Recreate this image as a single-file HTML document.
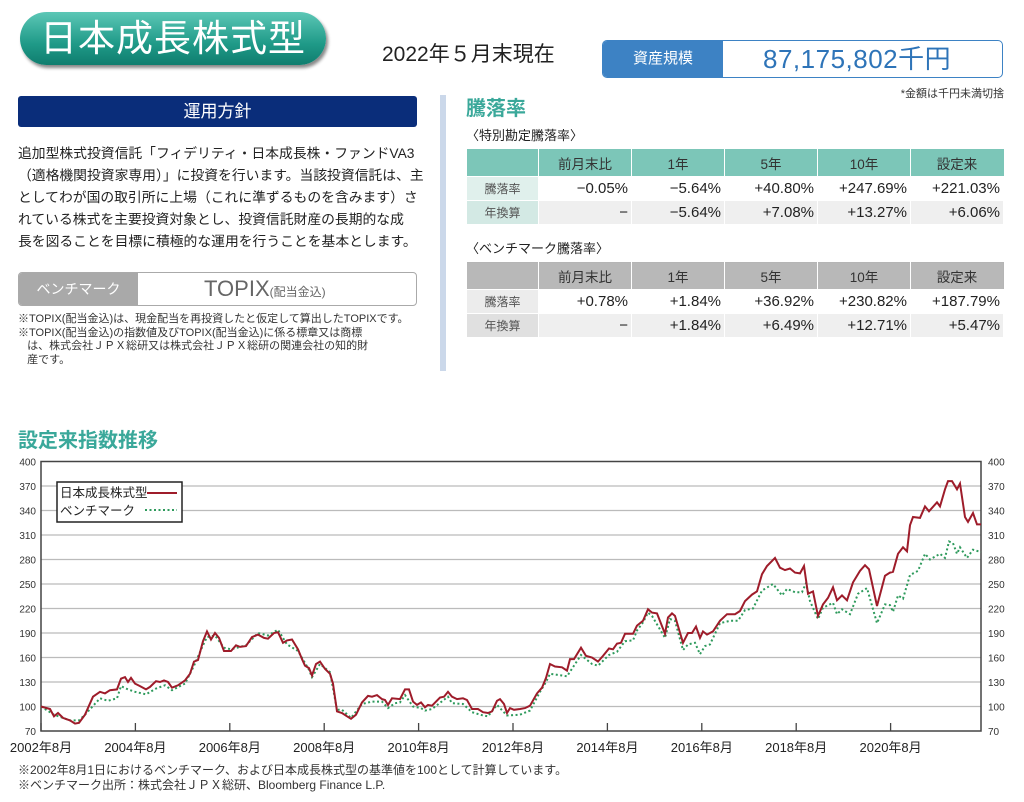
<!DOCTYPE html>
<html><head><meta charset="utf-8"><style>
body{margin:0;width:1024px;height:802px;background:#fff;position:relative;font-family:"Liberation Sans","Noto Sans CJK JP",sans-serif;color:#222;overflow:hidden}
.a{position:absolute;white-space:nowrap}
table{border-collapse:collapse;position:absolute;left:466px;width:538px;font-size:15px;table-layout:fixed}
td{border:1px solid #fff;height:23px;padding:0 3px;text-align:right}
th{font-weight:normal;font-size:13.5px;color:#333;height:24px;border-left:1px solid #fff}
td.l{text-align:center;font-size:12px;color:#555}
</style></head><body>
<div class="a" style="left:20px;top:12px;width:306px;height:53px;border-radius:27px;background:linear-gradient(#5cc7b6,#1f9a88 60%,#0f7d6e);box-shadow:2px 3px 3px #888;color:#fff;font-size:37px;line-height:53px;text-align:center;letter-spacing:1px">日本成長株式型</div>
<div class="a" style="left:382px;top:38px;font-size:21px">2022年５月末現在</div>
<div class="a" style="left:602px;top:40px;width:399px;height:36px;border:1px solid #3d82c4;border-radius:5px;overflow:hidden">
<div class="a" style="left:0;top:0;width:120px;height:36px;background:#3d82c4;color:#fff;font-size:15px;line-height:36px;text-align:center">資産規模</div>
<div class="a" style="left:160px;top:2px;font-size:26px;line-height:32px;color:#2e74b8;letter-spacing:0.5px">87,175,802千円</div></div>
<div class="a" style="right:20px;top:85px;font-size:11px;color:#333">*金額は千円未満切捨</div>
<div class="a" style="left:18px;top:96px;width:399px;height:31px;background:#0a2d7a;border-radius:3px;color:#fff;font-size:17px;line-height:31px;text-align:center">運用方針</div>
<div class="a" style="left:18px;top:143px;font-size:13.8px;line-height:22px;color:#222">追加型株式投資信託「フィデリティ・日本成長株・ファンドVA3<br>（適格機関投資家専用）」に投資を行います。当該投資信託は、主<br>としてわが国の取引所に上場（これに準ずるものを含みます）さ<br>れている株式を主要投資対象とし、投資信託財産の長期的な成<br>長を図ることを目標に積極的な運用を行うことを基本とします。</div>
<div class="a" style="left:18px;top:272px;width:397px;height:32px;border:1px solid #aaa;border-radius:4px;overflow:hidden">
<div class="a" style="left:0;top:0;width:119px;height:32px;background:#a9a9a9;color:#fff;font-size:14px;line-height:32px;text-align:center">ベンチマーク</div>
<div class="a" style="left:185px;top:3px;font-size:22px;color:#666">TOPIX<span style="font-size:12px">(配当金込)</span></div></div>
<div class="a" style="left:18px;top:313px;font-size:11px;line-height:13.5px;color:#333">※TOPIX(配当金込)は、現金配当を再投資したと仮定して算出したTOPIXです。<br>※TOPIX(配当金込)の指数値及びTOPIX(配当金込)に係る標章又は商標<br>&nbsp;&nbsp;&nbsp;は、株式会社ＪＰＸ総研又は株式会社ＪＰＸ総研の関連会社の知的財<br>&nbsp;&nbsp;&nbsp;産です。</div>
<div class="a" style="left:440px;top:95px;width:6px;height:276px;background:#cbd8ea"></div>
<div class="a" style="left:466px;top:92px;font-size:20px;font-weight:bold;color:#3aa89a">騰落率</div>
<div class="a" style="left:466px;top:125px;font-size:13px">〈特別勘定騰落率〉</div>
<table style="top:149px;border:1px solid #7cc6b8">
<colgroup><col style="width:72px"><col><col><col><col><col></colgroup>
<tr style="background:#7cc6b8"><th></th><th>前月末比</th><th>1年</th><th>5年</th><th>10年</th><th>設定来</th></tr>
<tr><td class="l" style="background:#e0f0ec">騰落率</td><td>−0.05%</td><td>−5.64%</td><td>+40.80%</td><td>+247.69%</td><td>+221.03%</td></tr>
<tr style="background:#efefef"><td class="l" style="background:#d3e9e4">年換算</td><td>−</td><td>−5.64%</td><td>+7.08%</td><td>+13.27%</td><td>+6.06%</td></tr></table>
<div class="a" style="left:466px;top:238px;font-size:13px">〈ベンチマーク騰落率〉</div>
<table style="top:262px;border:1px solid #b5b5b5">
<colgroup><col style="width:72px"><col><col><col><col><col></colgroup>
<tr style="background:#b8b8b8"><th></th><th>前月末比</th><th>1年</th><th>5年</th><th>10年</th><th>設定来</th></tr>
<tr><td class="l" style="background:#ececec">騰落率</td><td>+0.78%</td><td>+1.84%</td><td>+36.92%</td><td>+230.82%</td><td>+187.79%</td></tr>
<tr style="background:#efefef"><td class="l" style="background:#e0e0e0">年換算</td><td>−</td><td>+1.84%</td><td>+6.49%</td><td>+12.71%</td><td>+5.47%</td></tr></table>
<div class="a" style="left:18px;top:424px;font-size:20px;font-weight:bold;color:#3aa89a">設定来指数推移</div>
<svg class="a" style="left:0;top:0" width="1024" height="802" id="c"></svg>
<div class="a" style="left:18px;top:763px;font-size:12px;line-height:15px;color:#333">※2002年8月1日におけるベンチマーク、および日本成長株式型の基準値を100として計算しています。<br>※ベンチマーク出所：株式会社ＪＰＸ総研、Bloomberg Finance L.P.</div>
<script>
const L=41,R=981,T=461.5,B=731;
const Y=v=>B-(v-70)*(B-T)/330;
let s='';
for(let v=70;v<=400;v+=30){const y=Y(v).toFixed(1);
 if(v>70&&v<400)s+=`<line x1="${L}" x2="${R}" y1="${y}" y2="${y}" stroke="#bbb" stroke-width="1.3"/>`;
 s+=`<text x="36" y="${+y+4}" font-size="10" text-anchor="end" fill="#333">${v}</text><text x="988" y="${+y+4}" font-size="10" fill="#333">${v}</text>`;}
s+=`<rect x="${L}" y="${T}" width="${R-L}" height="${B-T}" fill="none" stroke="#444" stroke-width="1.5"/>`;
const yrs=['2002年8月','2004年8月','2006年8月','2008年8月','2010年8月','2012年8月','2014年8月','2016年8月','2018年8月','2020年8月'];
yrs.forEach((t,i)=>{const x=L+i*94.4;s+=`<line x1="${x}" x2="${x}" y1="${B-8}" y2="${B}" stroke="#444" stroke-width="1.3"/><text x="${x}" y="752" font-size="13" text-anchor="middle" fill="#222">${t}</text>`});
const f=[41,100,50,97,54,88,58,92,63,86,70,83,75,79,79,80,85,90,93,112,100,118,105,116,110,120,117,121,121,134,125,136,128,130,131,135,135,128,140,125,146,121,150,124,156,131,160,130,164,132,168,130,172,123,178,126,185,132,190,140,194,155,198,157,203,180,207,192,211,182,215,190,219,184,224,168,231,168,236,175,240,173,246,174,252,185,258,188,264,184,268,183,274,190,278,191,283,178,287,181,292,182,298,170,302,158,305,150,309,147,312,138,316,152,320,155,325,146,330,140,333,128,337,94,342,92,347,88,351,85,356,90,362,105,368,113,372,112,377,114,382,109,385,108,388,102,392,110,400,109,405,121,409,121,413,106,417,102,421,105,425,99,428,102,432,101,440,111,444,112,448,118,452,112,457,109,463,110,467,108,472,97,478,97,483,93,488,92,492,94,497,107,500,109,504,103,507,92,510,98,514,96,520,97,525,98,530,101,537,116,542,123,546,135,550,152,555,149,562,148,567,144,570,158,574,158,581,172,586,162,592,160,598,155,603,162,609,171,613,170,617,177,621,178,625,189,633,189,637,199,643,205,648,219,652,215,657,214,665,189,668,209,672,214,675,211,683,178,688,190,692,190,696,198,700,184,703,192,707,188,713,192,720,205,727,213,735,213,740,217,745,229,752,237,757,241,762,262,767,272,775,282,780,270,785,267,790,269,795,264,800,263,804,272,808,238,813,241,818,211,823,225,828,233,833,246,837,230,842,236,847,230,853,252,860,266,865,273,869,268,877,223,885,260,890,264,893,265,898,287,903,295,907,290,910,322,913,332,920,331,925,345,929,339,937,350,940,345,945,366,948,376,952,376,957,366,960,373,965,332,968,326,973,337,977,323,981,323];
const b=[41,100,54,90,70,83,79,83,85,90,100,110,108,107,117,110,121,125,128,121,135,118,146,115,156,122,165,126,172,120,185,128,194,150,203,175,207,185,215,187,224,172,231,170,246,175,258,190,268,187,278,194,287,176,298,168,309,145,312,136,320,152,330,142,337,96,342,96,351,86,362,103,372,106,382,106,388,98,395,104,400,105,405,114,413,100,421,98,425,95,432,97,448,112,452,104,463,103,472,93,483,89,488,88,497,102,507,89,520,90,530,95,540,118,546,130,550,140,562,138,567,137,574,150,581,163,592,152,598,150,609,163,617,167,625,180,633,181,637,193,643,203,648,215,652,211,665,184,670,207,675,205,683,169,688,176,695,178,700,164,705,174,710,176,720,202,730,205,738,205,745,218,753,220,762,242,773,250,782,236,787,244,795,240,802,240,806,251,810,229,818,207,823,221,833,227,837,213,842,219,850,213,858,238,867,245,877,202,885,225,890,224,893,216,898,236,903,232,910,261,918,266,925,287,930,280,940,287,945,282,949,302,953,300,957,287,960,295,967,282,973,292,981,289];
const P=a=>{let p=[];for(let i=0;i<a.length;i+=2)p.push(a[i]+','+Y(a[i+1]).toFixed(1));return p.join(' ')};
s+=`<polyline points="${P(b)}" fill="none" stroke="#2e9a5c" stroke-width="2" stroke-dasharray="2 2.5"/>`;
s+=`<polyline points="${P(f)}" fill="none" stroke="#9e1c2a" stroke-width="2"/>`;
s+=`<rect x="57" y="482" width="125" height="40" fill="#fff" stroke="#222" stroke-width="1.5"/>`;
s+=`<text x="60" y="497" font-size="12.5" fill="#222">日本成長株式型</text><line x1="147" x2="177" y1="493" y2="493" stroke="#9e1c2a" stroke-width="2"/>`;
s+=`<text x="60" y="515" font-size="12.5" fill="#222">ベンチマーク</text><line x1="145" x2="177" y1="510" y2="510" stroke="#2e9a5c" stroke-width="2" stroke-dasharray="2 2.5"/>`;
document.getElementById('c').innerHTML=s;
</script>
</body></html>
